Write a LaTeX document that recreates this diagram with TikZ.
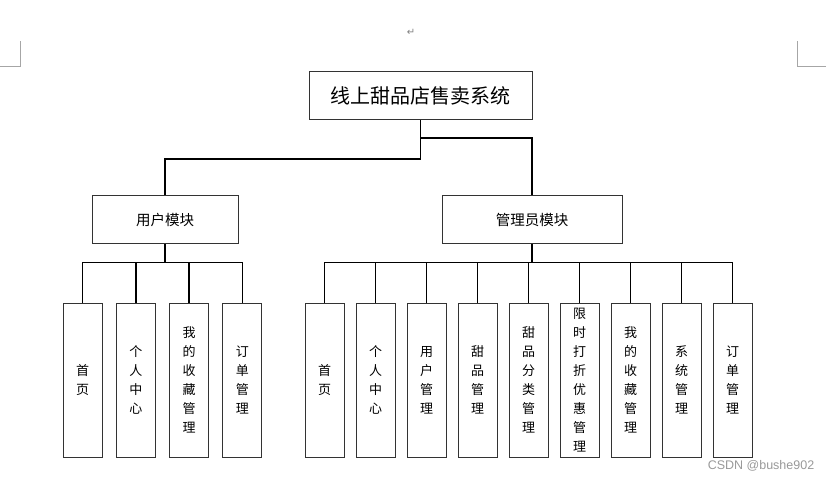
\documentclass[tikz,border=0pt]{standalone}
\usepackage{fontspec}
\setmainfont{Noto Sans CJK SC}
\newfontfamily\marksans{Liberation Sans}
\newfontfamily\dejavu{DejaVu Sans}
\usetikzlibrary{positioning,calc}

\begin{document}
\begin{tikzpicture}[x=1pt,y=-1pt,
    sysbox/.style={draw=black!80,line width=1pt,minimum width=223pt,minimum height=48pt,
        font=\fontsize{20}{24}\selectfont},
    modbox/.style={draw=black!80,line width=1pt,minimum height=48pt,
        font=\fontsize{14.5}{18}\selectfont},
    funcbox/.style={draw=black!80,line width=1pt,minimum width=39pt,minimum height=154pt,
        inner sep=0pt,align=center,font=\fontsize{13}{19}\selectfont},
    link/.style={line width=1.5pt}]
\useasboundingbox (0,0) rectangle (833,481);

% Page marks
\draw[gray!70] (0,66) -- (20,66) -- (20,41);
\draw[gray!70] (826,66) -- (797,66) -- (797,41);
\node[gray,font=\dejavu\fontsize{10}{11}\selectfont] (ret) at (411,32) {↵};

% System and modules
\node[sysbox] (sys) at (420.5,95.5) {线上甜品店售卖系统};
\node[modbox,minimum width=146pt] (user) at (165,220) {用户模块};
\node[modbox,minimum width=180pt] (admin) at (532,220) {管理员模块};

\draw[link] (sys.south) -- ++(0,39) -| (user.north);
\draw[link] ($(sys.south)+(0,18)$) -| (admin.north);

% User functions
\foreach \txt [count=\i] in {{首\\页},{个\\人\\中\\心},{我\\的\\收\\藏\\管\\理},{订\\单\\管\\理}}
    \node[funcbox] (u\i) at ({82.5+53.33*(\i-1)},380) {\txt};

\draw[link] (user.south) -- ++(0,18) coordinate (ubus);
\draw[link] (u1.north |- ubus) -- (u4.north |- ubus);
\foreach \i in {1,...,4}
    \draw[link] (ubus -| u\i.north) -- (u\i.north);

% Admin functions
\foreach \txt [count=\i] in {{首\\页},{个\\人\\中\\心},{用\\户\\管\\理},{甜\\品\\管\\理},
    {甜\\品\\分\\类\\管\\理},{限\\时\\打\\折\\优\\惠\\管\\理},{我\\的\\收\\藏\\管\\理},
    {系\\统\\管\\理},{订\\单\\管\\理}}
    \node[funcbox] (a\i) at ({324.5+51*(\i-1)},380) {\txt};

\draw[link] (admin.south) -- ++(0,18) coordinate (abus);
\draw[link] (a1.north |- abus) -- (a9.north |- abus);
\foreach \i in {1,...,9}
    \draw[link] (abus -| a\i.north) -- (a\i.north);

% Watermark
\node[gray!80,font=\marksans\fontsize{12.5}{14}\selectfont] (mark) at (761,466) {CSDN @bushe902};
\end{tikzpicture}
\end{document}
